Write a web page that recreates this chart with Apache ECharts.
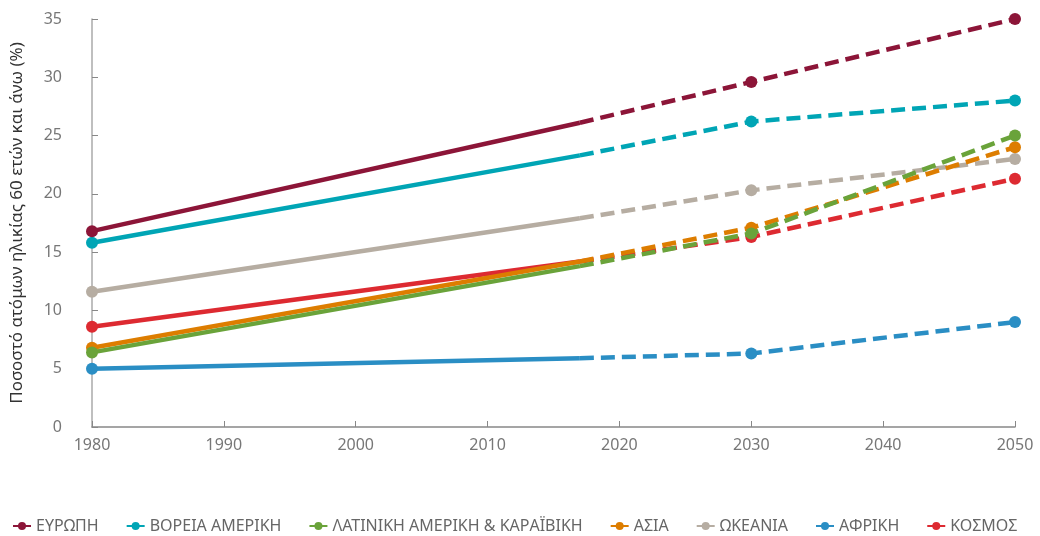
<!DOCTYPE html>
<html>
<head>
<meta charset="utf-8">
<script src="https://cdn.jsdelivr.net/npm/echarts@6/dist/echarts.min.js"></script>
<style>
  html, body { margin: 0; padding: 0; background: #fff; }
  #chart { width: 1040px; height: 536px; }
</style>
</head>
<body>
<div id="chart"></div>
<script>
// Share of people aged 60+ (%), observed 1980–2017 and projected 2017–2050
const regions = ['ΕΥΡΩΠΗ', 'ΒΟΡΕΙΑ ΑΜΕΡΙΚΗ', 'ΛΑΤΙΝΙΚΗ ΑΜΕΡΙΚΗ & ΚΑΡΑΪΒΙΚΗ', 'ΑΣΙΑ', 'ΩΚΕΑΝΙΑ', 'ΑΦΡΙΚΗ', 'ΚΟΣΜΟΣ'];
const colors = ['#8c1538', '#00a5b5', '#6aa33a', '#dd7d00', '#b6ada2', '#2a8ec4', '#dd2a31'];

const observedYears = [1980, 2017];
const projectedYears = [2017, 2030, 2050];

const europe = [16.8, 26.1, 29.6, 35.0];
const northAmerica = [15.8, 23.3, 26.2, 28.0];
const latinAmerica = [6.4, 13.8, 16.6, 25.0];
const asia = [6.8, 14.2, 17.1, 24.0];
const oceania = [11.6, 17.9, 20.3, 23.0];
const africa = [5.0, 5.9, 6.3, 9.0];
const world = [8.6, 14.2, 16.3, 21.3];

const values = [europe, northAmerica, latinAmerica, asia, oceania, africa, world];

const yTicks = [0, 5, 10, 15, 20, 25, 30, 35];
const xTicks = [1980, 1990, 2000, 2010, 2020, 2030, 2040, 2050];

const series = [];
regions.forEach((name, i) => {
  const v = values[i];
  // observed: 1980 → 2017, solid, marker only at 1980
  series.push({
    name, type: 'line', color: colors[i],
    symbol: 'circle', symbolSize: 12,
    lineStyle: { width: 4.5, type: 'solid' },
    data: [
      { value: [observedYears[0], v[0]] },
      { value: [observedYears[1], v[1]], symbol: 'none' }
    ],
    z: 10 - i
  });
  // projection: 2017 → 2050, dashed, markers at 2030 and 2050
  series.push({
    name, type: 'line', color: colors[i],
    symbol: 'circle', symbolSize: 12,
    lineStyle: { width: 4.5, type: [14, 7] },
    data: [
      { value: [projectedYears[0], v[1]], symbol: 'none' },
      { value: [projectedYears[1], v[2]] },
      { value: [projectedYears[2], v[3]] }
    ],
    z: 10 - i
  });
});

const chart = echarts.init(document.getElementById('chart'), null, { renderer: 'canvas' });
chart.setOption({
  animation: false,
  textStyle: { fontFamily: '"Noto Sans", sans-serif' },
  grid: { left: 92, right: 25, top: 19, bottom: 109, containLabel: false },
  xAxis: {
    type: 'value', min: xTicks[0], max: xTicks[xTicks.length - 1], interval: 10,
    axisLine: { lineStyle: { color: '#888', width: 1.5 } },
    axisTick: { inside: true, length: 6, lineStyle: { color: '#888' } },
    axisLabel: { color: '#777', fontSize: 16, margin: 10, formatter: v => String(v) },
    splitLine: { show: false }
  },
  yAxis: {
    type: 'value', min: yTicks[0], max: yTicks[yTicks.length - 1], interval: 5,
    name: 'Ποσοστό ατόμων ηλικίας 60 ετών και άνω (%)',
    nameLocation: 'middle', nameGap: 66,
    nameTextStyle: { color: '#333', fontSize: 17 },
    axisLine: { show: true, lineStyle: { color: '#aaa', width: 1.5 } },
    axisTick: { show: true, inside: true, length: 6, lineStyle: { color: '#888' } },
    axisLabel: { color: '#777', fontSize: 16, margin: 30 },
    splitLine: { show: false }
  },
  legend: {
    data: regions, bottom: 2, left: 12, width: 1028, padding: 0,
    itemWidth: 18, itemHeight: 10, itemGap: 27,
    textStyle: { color: '#666', fontSize: 16 }
  },
  series
});
</script>
</body>
</html>
